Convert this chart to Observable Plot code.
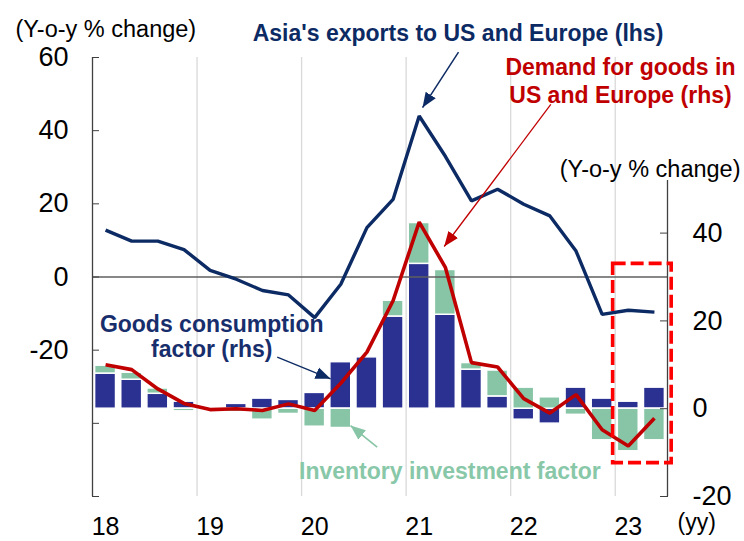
<!DOCTYPE html>
<html>
<head>
<meta charset="utf-8">
<script src="https://cdn.jsdelivr.net/npm/d3@7"></script>
<script src="https://cdn.jsdelivr.net/npm/@observablehq/plot@0.6"></script>
<style>
  html, body { margin: 0; padding: 0; background: #ffffff; }
  #chart { width: 744px; height: 541px; }
</style>
</head>
<body>
<div id="chart"></div>
<script>
// ---------------- data ----------------
const quarters = [
  "2018Q1","2018Q2","2018Q3","2018Q4",
  "2019Q1","2019Q2","2019Q3","2019Q4",
  "2020Q1","2020Q2","2020Q3","2020Q4",
  "2021Q1","2021Q2","2021Q3","2021Q4",
  "2022Q1","2022Q2","2022Q3","2022Q4",
  "2023Q1","2023Q2"
];
// Asia's exports to US and Europe (lhs, y-o-y %)
const asiaExports = [12.8, 9.8, 9.8, 7.5, 1.8, -0.6, -3.7, -4.9, -11.1, -2.0, 13.5, 21.2,
                     44.0, 33.0, 20.8, 24.0, 19.9, 16.7, 7.1, -10.2, -9.1, -9.6];
// Demand for goods in US and Europe (rhs, y-o-y %)
const goodsDemand = [10.0, 8.9, 4.5, 1.2, -0.2, 0.0, -0.4, 1.1, -0.4, 5.8, 12.9, 24.6,
                     42.5, 32.2, 10.5, 9.5, 2.3, -1.0, 3.2, -4.8, -8.5, -2.2];
// Goods consumption factor (rhs)
const goodsConsumption = [8.0, 6.6, 3.4, 1.6, 0.0, 1.1, 2.3, 2.0, 3.6, 10.6, 11.7, 21.0,
                          33.0, 21.4, 8.9, 2.8, -2.5, -3.4, 4.8, 2.3, 1.6, 4.8];
// Inventory investment factor (rhs)
const inventoryInvestment = [1.8, 1.6, 1.2, -0.6, 0.0, -0.8, -2.5, -1.2, -4.1, -4.4, 0.0, 3.6,
                             9.3, 10.2, 1.5, 5.9, 4.8, 2.6, -1.4, -7.2, -9.7, -7.2];

const tickYears = [2018, 2019, 2020, 2021, 2022, 2023];
const xTickLabels = ["18", "19", "20", "21", "22", "23"];
const leftTicks = [60, 40, 20, 0, -20, -40, -60];
const leftLabelled = [60, 40, 20, 0, -20];
const rightTicks = [40, 20, 0, -20];
const leftDomain = [-60, 60];
const rightDomain = [-20, 80];
const gridYears = [2019, 2020, 2021, 2022, 2023];

const unitLabel = "(Y-o-y % change)";
const periodLabel = "(yy)";
const labelExports = "Asia's exports to US and Europe (lhs)";
const labelDemand = "Demand for goods in\nUS and Europe (rhs)";
const labelConsumption = "Goods consumption\nfactor (rhs)";
const labelInventory = "Inventory investment factor";

// highlighted period (dashed box), in x years / rhs units
const highlightX = [2022.98, 2023.54];
const highlightY = [-12.4, 33];

// ---------------- helpers ----------------
const qTime = (s) => +s.slice(0, 4) + (+s.slice(5) - 0.5) / 4;
const toL = d3.scaleLinear(rightDomain, leftDomain); // rhs value -> lhs units
const toR = toL.invert;

const rows = quarters.map((q, i) => ({
  t: qTime(q),
  exports: asiaExports[i],
  demand: goodsDemand[i],
  cons: goodsConsumption[i],
  inv: inventoryInvestment[i]
}));

const bars = [];
rows.forEach((r) => {
  bars.push({t: r.t, y1: 0, y2: r.cons, k: "cons"});
  const base = (r.inv * r.cons > 0) ? r.cons : 0;
  bars.push({t: r.t, y1: base, y2: base + r.inv, k: "inv"});
});

const xDomain = [tickYears[0], qTime(quarters[quarters.length - 1]) + 0.125];
const half = 0.1;

const NAVY = "#0C2A63";
const BLUE = "#2A3191";
const GREEN = "#88C5A6";
const RED = "#C00000";
const FONT = "'Liberation Sans', Arial, Helvetica, sans-serif";

// annotation positions (x in years, y in lhs units)
const annotations = [
  {x: 2021.496, y: 66.9, text: labelExports, fill: NAVY, lh: 1.2},
  {x: 2023.05, y: 53.95, text: labelDemand, fill: RED, lh: 1.23},
  {x: 2019.14, y: -16.2, text: labelConsumption, fill: "#182E6C", lh: 1.09},
  {x: 2021.418, y: -52.9, text: labelInventory, fill: "#88C8A8", lh: 1.2}
];
const arrows = [
  {x1: 2021.501, y1: 61.45, x2: 2021.157, y2: 46.3, c: NAVY, w: 1.5},
  {x1: 2022.384, y1: 47.16, x2: 2021.364, y2: 8.34, c: RED, w: 1.3},
  {x1: 2019.767, y1: -21.92, x2: 2020.277, y2: -27.83, c: NAVY, w: 1.3},
  {x1: 2020.723, y1: -46.53, x2: 2020.468, y2: -40.6, c: GREEN, w: 1.6}
];

const chart = Plot.plot({
  width: 744,
  height: 541,
  marginLeft: 92,
  marginRight: 77,
  marginTop: 57,
  marginBottom: 45,
  style: {fontFamily: FONT, background: "#ffffff", color: "#000000", overflow: "visible"},
  x: {domain: xDomain},
  y: {domain: leftDomain},
  marks: [
    // vertical gridlines at year boundaries
    Plot.ruleX(gridYears, {stroke: "#d9d9d9", strokeWidth: 1.3}),
    // stacked contribution bars
    Plot.rect(bars, {
      x1: (d) => d.t - half,
      x2: (d) => d.t + half,
      y1: (d) => toL(d.y1),
      y2: (d) => toL(d.y2),
      fill: (d) => d.k === "cons" ? BLUE : GREEN,
      stroke: "#ffffff",
      strokeWidth: 1.5
    }),
    // zero line (lhs)
    Plot.ruleY([0], {stroke: "#5f5f5f", strokeWidth: 1.5}),
    // axis lines
    Plot.ruleX([xDomain[0]], {stroke: "#404040", strokeWidth: 1.3}),
    Plot.ruleX([xDomain[1]], {y1: toL(rightDomain[0]), y2: toL(52), stroke: "#404040", strokeWidth: 1.3}),
    // lines
    Plot.line(rows, {x: "t", y: (d) => toL(d.demand), stroke: RED, strokeWidth: 3.6, strokeLinejoin: "miter", strokeLinecap: "butt"}),
    Plot.line(rows, {x: "t", y: "exports", stroke: NAVY, strokeWidth: 3.4, strokeLinejoin: "miter", strokeLinecap: "butt"}),
    // highlight box
    Plot.rect([0], {
      x1: highlightX[0], x2: highlightX[1],
      y1: toL(highlightY[0]), y2: toL(highlightY[1]),
      fill: "none", stroke: "#FF0000", strokeWidth: 3.6, strokeDasharray: "13,5"
    }),
    // arrows
    Plot.link(arrows, {x1: "x1", y1: "y1", x2: "x2", y2: "y2", stroke: "c", strokeWidth: "w", markerEnd: "arrow"}),
    // annotations
    ...annotations.map((a) => Plot.text([a], {
      x: "x", y: "y", text: "text", fill: a.fill, fontSize: 23, fontWeight: "bold",
      textAnchor: "middle", lineAnchor: "middle", lineHeight: a.lh
    })),
    // axes
    Plot.axisY(leftTicks, {
      anchor: "left", tickSize: -7, tickPadding: 31, fontSize: 27, stroke: "#404040", fill: "#000000",
      tickFormat: (d) => leftLabelled.includes(d) ? String(d) : ""
    }),
    Plot.axisY(rightTicks.map(toL), {
      anchor: "right", tickSize: -8, tickPadding: 33, fontSize: 27, stroke: "#404040", fill: "#000000",
      tickFormat: (d) => String(Math.round(toR(d)))
    }),
    Plot.axisX(tickYears.map((y) => qTime(y + "Q1")), {
      anchor: "bottom", tickSize: 0, tickPadding: 21, fontSize: 25, fill: "#000000",
      tickFormat: (d) => xTickLabels[tickYears.indexOf(Math.floor(d))]
    }),
    // unit labels
    Plot.text([unitLabel], {text: (d) => d, frameAnchor: "top-left", textAnchor: "start", dx: -77, dy: -37, fontSize: 23.5, fill: "#000000"}),
    Plot.text([unitLabel], {text: (d) => d, frameAnchor: "top-right", textAnchor: "end", dx: 73, dy: 103, fontSize: 23.5, fill: "#000000"}),
    Plot.text([periodLabel], {text: (d) => d, frameAnchor: "bottom-right", textAnchor: "start", dx: 10, dy: 33, fontSize: 23, fill: "#000000"})
  ]
});

// filled triangular arrowheads
chart.querySelectorAll("marker").forEach((m) => {
  const c = m.getAttribute("stroke") || "#000";
  m.setAttribute("viewBox", "-10 -5 10 10");
  m.setAttribute("markerUnits", "userSpaceOnUse");
  m.setAttribute("markerWidth", "15");
  m.setAttribute("markerHeight", "15");
  m.setAttribute("fill", c);
  m.setAttribute("stroke", "none");
  const p = m.querySelector("path");
  if (p) p.setAttribute("d", "M-10,-4L0,0L-10,4Z");
});

document.getElementById("chart").appendChild(chart);
</script>
</body>
</html>
